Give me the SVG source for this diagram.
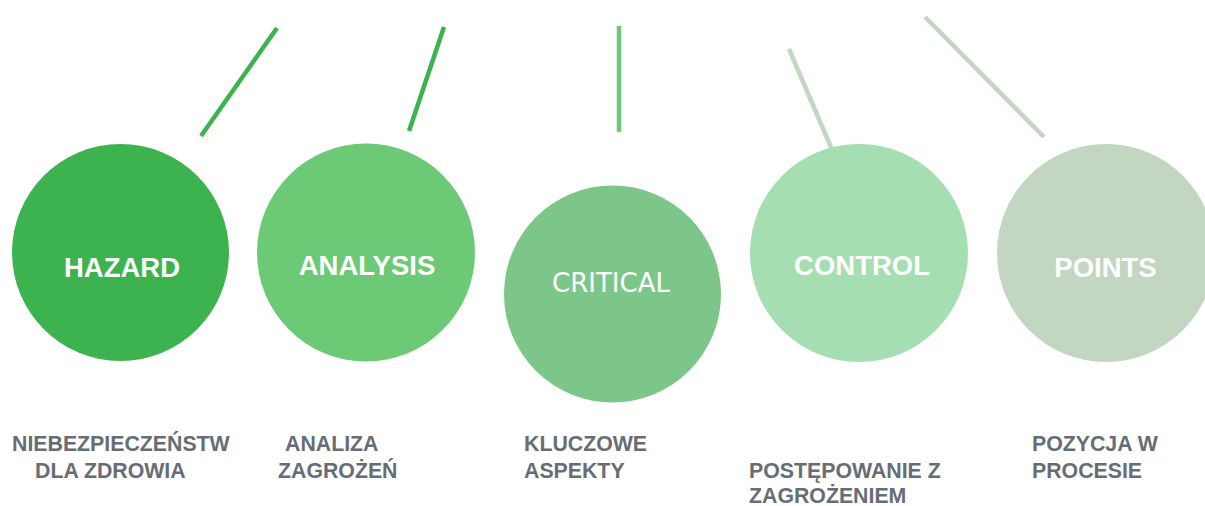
<svg xmlns="http://www.w3.org/2000/svg" width="1205" height="506" viewBox="0 0 1205 506">
<style>
.lbl{font-family:"Liberation Sans",Arial,sans-serif;font-weight:bold;font-size:27.5px;fill:#ffffff;text-anchor:middle}
.crit{font-family:"DejaVu Sans",Tahoma,sans-serif;font-size:26px;fill:#ffffff;text-anchor:middle}
.sub{font-family:"Liberation Sans",Arial,sans-serif;font-weight:bold;font-size:21.3px;fill:#676d75}
.ln{stroke-width:4.5;fill:none;stroke-linecap:butt}
</style>
<rect width="1205" height="506" fill="#ffffff"/>
<g id="connectors">
<line class="ln" x1="277" y1="28" x2="201" y2="136" stroke="#3cb44e"/>
<line class="ln" x1="444" y1="27" x2="409" y2="131" stroke="#3cb44e"/>
<line class="ln" x1="619" y1="26" x2="619" y2="132" stroke="#6cca76" stroke-width="5"/>
<line class="ln" x1="789" y1="49" x2="833" y2="152" stroke="#c2d6c2"/>
<line class="ln" x1="925" y1="17" x2="1044" y2="137" stroke="#c2d6c2"/>
</g>
<g id="hazard">
<circle cx="120.5" cy="252.5" r="108.5" fill="#3cb34e"/>
<text class="lbl" x="122" y="277">HAZARD</text>
</g>
<g id="analysis">
<circle cx="366" cy="252.5" r="109" fill="#6cca76"/>
<text class="lbl" x="367" y="275">ANALYSIS</text>
</g>
<g id="critical">
<circle cx="612.5" cy="294" r="108.5" fill="#7dc68a"/>
<text class="crit" x="611" y="292" textLength="118" lengthAdjust="spacingAndGlyphs">CRITICAL</text>
</g>
<g id="control">
<circle cx="859" cy="253" r="109" fill="#a5deb0"/>
<text class="lbl" x="862" y="275">CONTROL</text>
</g>
<g id="points">
<circle cx="1106" cy="253" r="109" fill="#c2d6c2"/>
<text class="lbl" x="1105.5" y="277">POINTS</text>
</g>
<g id="label-hazard">
<text class="sub" x="12" y="451">NIEBEZPIECZEŃSTW</text>
<text class="sub" x="35" y="478">DLA ZDROWIA</text>
</g>
<g id="label-analysis">
<text class="sub" x="285" y="451">ANALIZA</text>
<text class="sub" x="278" y="478">ZAGROŻEŃ</text>
</g>
<g id="label-critical">
<text class="sub" x="524" y="451">KLUCZOWE</text>
<text class="sub" x="524" y="478">ASPEKTY</text>
</g>
<g id="label-control">
<text class="sub" x="749" y="478">POSTĘPOWANIE Z</text>
<text class="sub" x="749" y="503">ZAGROŻENIEM</text>
</g>
<g id="label-points">
<text class="sub" x="1032" y="451">POZYCJA W</text>
<text class="sub" x="1032" y="478">PROCESIE</text>
</g>
</svg>
